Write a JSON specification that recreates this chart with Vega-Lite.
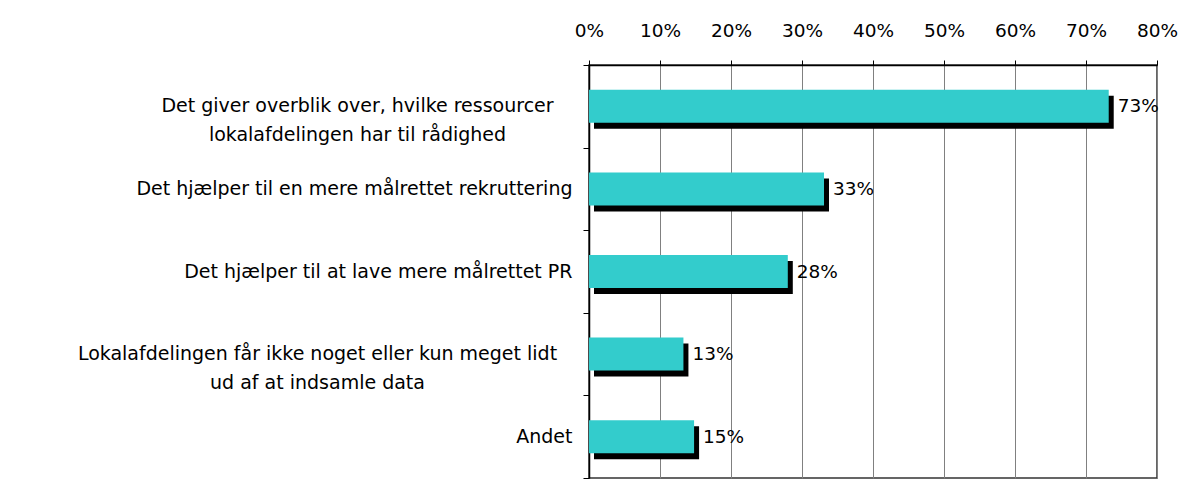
{
  "$schema": "https://vega.github.io/schema/vega-lite/v6.json",
  "autosize": {"type": "none"},
  "width": 568,
  "height": 413,
  "padding": {"left": 589, "top": 65, "right": 24, "bottom": 14},
  "background": "white",
  "config": {
    "view": {"stroke": "#333333", "strokeWidth": 1.5},
    "font": "DejaVu Sans",
    "axisY": {
      "title": null,
      "orient": "left",
      "labelFontSize": 19,
      "labelFont": "DejaVu Sans",
      "labelColor": "black",
      "labelLimit": 0,
      "labelLineHeight": 29,
      "labelBaseline": "middle"
    }
  },
  "data": {
    "values": [
      {"cat": "Det giver overblik over, hvilke ressourcer\nlokalafdelingen har til rådighed", "value": 73.2, "label": "73%"},
      {"cat": "Det hjælper til en mere målrettet rekruttering", "value": 33.1, "label": "33%"},
      {"cat": "Det hjælper til at lave mere målrettet PR", "value": 28.0, "label": "28%"},
      {"cat": "Lokalafdelingen får ikke noget eller kun meget lidt\nud af at indsamle data", "value": 13.3, "label": "13%"},
      {"cat": "Andet", "value": 14.8, "label": "15%"}
    ]
  },
  "resolve": {"axis": {"y": "independent"}},
  "layer": [
    {
      "mark": {"type": "bar", "color": "black", "xOffset": 5, "yOffset": 6, "height": {"band": 0.4}},
      "encoding": {
        "y": {
          "field": "cat",
          "type": "nominal",
          "sort": null,
          "scale": {"paddingInner": 0, "paddingOuter": 0},
          "axis": {
            "orient": "left",
            "domainColor": "black",
            "domainWidth": 1.5,
            "tickColor": "black",
            "tickSize": 6,
            "tickBand": "extent",
            "labelAlign": "right",
            "labelPadding": 11,
            "labelExpr": "indexof(datum.label, '\\n') >= 0 ? '' : datum.label"
          }
        },
        "x": {
          "field": "value",
          "type": "quantitative",
          "scale": {"domain": [0, 80], "nice": false},
          "axis": {
            "title": null,
            "orient": "top",
            "values": [0, 10, 20, 30, 40, 50, 60, 70, 80],
            "labelExpr": "datum.value + '%'",
            "grid": true,
            "gridColor": "#808080",
            "gridWidth": 1,
            "domainColor": "black",
            "domainWidth": 1.5,
            "tickColor": "black",
            "tickSize": 5,
            "labelPadding": 20,
            "labelFontSize": 18.5,
            "labelFont": "DejaVu Sans",
            "labelColor": "black",
            "labelFlush": false
          }
        }
      }
    },
    {
      "mark": {"type": "bar", "color": "#33CCCC", "height": {"band": 0.4}},
      "encoding": {
        "y": {
          "field": "cat",
          "type": "nominal",
          "sort": null,
          "axis": {
            "orient": "left",
            "domain": false,
            "ticks": false,
            "labelAlign": "center",
            "labelPadding": 232,
            "labelExpr": "indexof(datum.label, 'Det giver') == 0 ? split(datum.label, '\\n') : ''"
          }
        },
        "x": {"field": "value", "type": "quantitative"}
      }
    },
    {
      "mark": {"type": "text", "align": "left", "baseline": "middle", "dx": 9, "fontSize": 18.5, "font": "DejaVu Sans", "color": "black"},
      "encoding": {
        "y": {
          "field": "cat",
          "type": "nominal",
          "sort": null,
          "axis": {
            "orient": "left",
            "domain": false,
            "ticks": false,
            "labelAlign": "center",
            "labelPadding": 272,
            "labelExpr": "indexof(datum.label, 'Lokal') == 0 ? split(datum.label, '\\n') : ''"
          }
        },
        "x": {"field": "value", "type": "quantitative"},
        "text": {"field": "label"}
      }
    }
  ]
}
